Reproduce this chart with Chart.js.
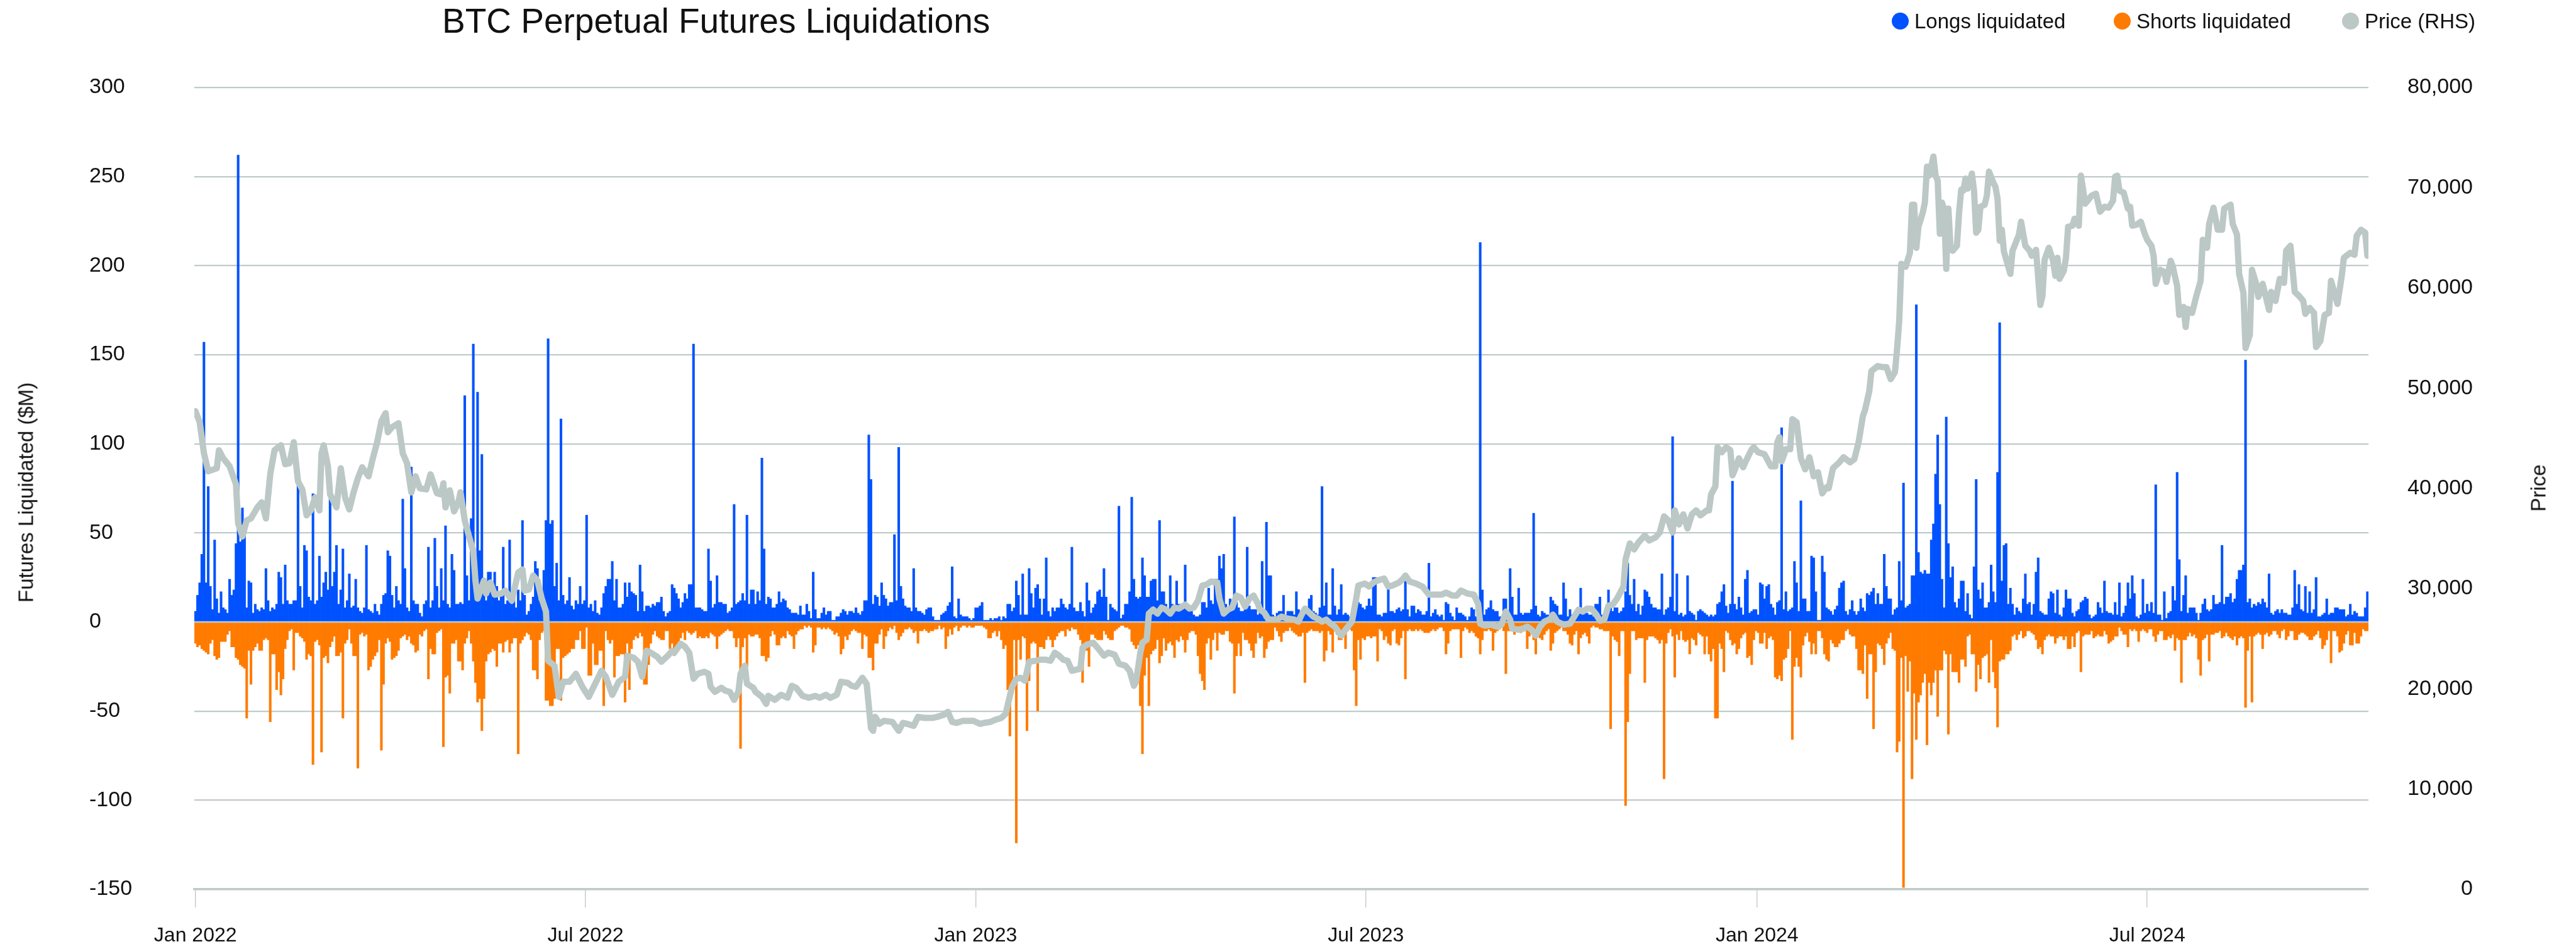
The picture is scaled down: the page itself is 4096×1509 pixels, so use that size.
<!DOCTYPE html>
<html>
<head>
<meta charset="utf-8">
<title>BTC Perpetual Futures Liquidations</title>
<script src="https://cdn.jsdelivr.net/npm/chart.js@4.4.1/dist/chart.umd.min.js"></script>
<style>
  html, body { margin: 0; padding: 0; background: #ffffff; }
  #wrap { position: relative; width: 4096px; height: 1509px; font-family: 'Liberation Sans', Arial, sans-serif; color: #111; }
  #chart { position: absolute; left: 0; top: 0; }
  .title { position: absolute; left: 703px; top: 6px; font-size: 55px; line-height: 55px; white-space: nowrap; }
  .legend-dot { position: absolute; width: 27px; height: 27px; border-radius: 50%; top: 20px; }
  .legend-text { position: absolute; top: 17px; font-size: 33px; line-height: 33px; white-space: nowrap; }
  .axis-title { position: absolute; font-size: 33px; line-height: 33px; white-space: nowrap;
                transform: translate(-50%, -50%) rotate(-90deg); }
</style>
</head>
<body>
<div id="wrap">
  <canvas id="chart"></canvas>
  <div class="title">BTC Perpetual Futures Liquidations</div>
  <div class="legend-dot" style="left:3008px;background:#0052ff"></div>
  <div class="legend-text" style="left:3044px">Longs liquidated</div>
  <div class="legend-dot" style="left:3361px;background:#ff7b00"></div>
  <div class="legend-text" style="left:3397px">Shorts liquidated</div>
  <div class="legend-dot" style="left:3724px;background:#bcc8c5"></div>
  <div class="legend-text" style="left:3760px">Price (RHS)</div>
  <div class="axis-title" style="left:41px;top:783px">Futures Liquidated ($M)</div>
  <div class="axis-title" style="left:4036px;top:776px">Price</div>
</div>
<script>
// daily values from 1 Jan 2022, one entry per day ($M)
const longsLiquidated = [
  6,15,22,38,157,22,76,20,7,46,          // 0
  13,5,17,8,7,5,24,15,18,44,
  262,45,64,56,8,23,22,5,10,7,
  6,8,7,30,12,6,8,7,10,28,
  25,10,32,12,10,10,12,12,77,20,
  8,43,40,14,12,72,10,12,37,14,
  22,28,18,71,20,28,43,10,18,41,
  8,12,27,8,9,24,8,6,5,8,
  43,7,6,5,10,6,4,10,15,16,
  40,37,15,8,20,12,10,69,30,8,
  6,87,12,10,10,5,3,10,12,42,            // 100
  8,12,47,20,8,30,12,54,10,8,
  38,29,10,10,11,10,127,26,12,58,
  156,30,129,40,94,20,12,28,28,18,
  28,20,12,15,42,10,12,46,10,16,
  8,18,12,57,15,4,6,10,14,34,
  30,12,10,29,57,159,55,57,20,33,
  12,114,15,10,12,25,9,7,12,10,
  20,10,12,60,8,10,6,12,5,4,
  8,16,20,24,24,34,12,24,8,8,
  10,22,14,22,17,16,15,6,32,17,          // 200
  6,9,9,8,10,9,11,11,14,6,
  3,5,6,21,19,16,13,8,11,16,
  13,21,21,156,8,8,8,7,6,6,
  41,23,8,10,26,11,11,10,10,5,
  6,8,66,10,11,12,16,12,60,10,
  18,18,10,17,12,92,41,10,14,13,
  8,8,10,17,11,13,12,8,7,5,
  5,5,4,9,4,4,10,6,2,28,
  7,2,2,5,8,4,6,6,1,1,
  3,3,5,7,6,4,6,6,5,8,                   // 300
  5,4,6,12,12,105,80,10,15,14,
  9,22,15,13,9,11,11,49,12,98,
  20,13,9,8,8,6,30,8,6,6,
  5,4,7,8,8,3,1,1,1,4,
  5,6,9,11,31,3,2,13,4,3,
  3,3,2,1,2,8,8,9,11,1,
  1,1,2,1,2,2,3,1,3,2,
  10,10,6,8,23,15,4,27,4,4,
  30,16,8,19,21,13,4,13,36,6,
  3,8,6,8,8,13,10,8,7,10,                // 400
  42,8,6,6,11,6,3,22,12,5,
  8,10,17,18,14,30,14,1,10,8,
  7,6,65,2,4,10,10,17,70,24,
  14,13,14,36,26,14,14,23,24,24,
  12,57,17,17,10,6,26,10,7,23,
  10,10,9,32,10,8,6,4,3,3,
  4,11,11,8,19,12,10,24,24,37,
  30,38,10,6,13,11,59,11,8,6,
  6,10,42,9,7,7,7,4,10,34,
  2,56,26,26,4,3,5,6,6,15,               // 500
  4,6,6,6,4,17,7,6,4,8,
  7,13,15,6,5,4,8,76,9,22,
  4,4,30,9,4,7,21,4,5,4,
  3,5,7,13,11,10,8,7,9,13,
  9,25,25,4,4,3,5,5,22,6,
  6,5,7,8,6,7,24,7,3,9,
  9,5,7,6,4,4,6,33,3,5,
  7,4,3,4,1,11,10,5,3,1,
  8,5,5,4,3,1,3,8,7,3,
  5,213,18,4,7,8,12,7,6,6,               // 600
  3,3,13,13,4,30,14,4,4,19,
  5,4,5,5,5,7,61,9,4,3,
  6,5,4,4,14,12,10,9,4,4,
  22,13,3,7,4,4,5,7,19,5,
  5,5,4,4,3,10,10,14,4,3,
  3,18,10,6,8,8,5,6,8,17,
  33,15,10,24,6,10,4,9,18,17,
  14,10,8,8,7,7,27,4,7,8,
  14,104,6,27,4,5,3,4,26,6,
  5,4,1,6,7,6,5,4,3,4,                   // 700
  3,4,10,11,17,21,9,5,10,79,
  10,7,14,8,4,24,29,5,6,7,
  7,4,22,21,13,20,21,10,8,4,
  11,12,109,7,17,6,7,8,34,22,
  6,68,13,13,6,6,37,36,17,1,
  1,37,28,8,7,6,4,7,9,19,
  22,23,6,4,7,12,6,4,6,13,
  8,6,16,15,17,19,10,16,10,10,
  38,20,13,13,4,7,8,34,12,78,
  8,9,10,26,26,178,39,28,27,29,          // 800
  27,27,46,55,83,105,66,24,8,115,
  44,25,31,11,8,13,23,23,6,16,
  4,2,31,80,18,13,22,8,8,11,
  32,17,11,84,168,23,43,44,10,19,
  10,4,8,6,5,13,27,10,11,4,
  10,28,36,6,5,4,4,13,17,16,
  5,18,4,3,8,18,13,13,5,3,
  6,7,11,12,14,13,4,2,3,4,
  11,8,5,23,6,5,5,4,11,4,
  22,3,5,9,22,13,26,16,3,2,              // 900
  4,24,5,10,6,11,5,77,4,4,
  1,17,2,5,6,20,12,84,35,6,
  15,26,5,8,8,8,5,1,5,10,
  13,7,6,7,15,10,10,11,43,10,
  14,14,16,11,13,24,29,29,32,147,
  11,13,8,10,9,11,10,13,11,8,
  27,5,4,6,7,5,7,5,5,4,
  4,8,29,10,21,7,6,20,5,17,
  5,7,25,3,3,4,5,13,4,5,
  5,8,8,7,7,7,3,4,10,4,                  // 1000
  6,5,3,3,3,8,17
];

const shortsLiquidated = [
  -12,-14,-13,-15,-16,-17,-18,-12,-10,-19,      // 0
  -21,-20,-11,-11,-11,-7,-5,-14,-14,-20,
  -21,-24,-25,-26,-54,-16,-35,-16,-14,-12,
  -16,-16,-10,-9,-10,-56,-18,-18,-38,-28,
  -41,-32,-15,-10,-5,-4,-27,-6,-6,-8,
  -9,-11,-21,-18,-19,-80,-11,-10,-13,-73,
  -20,-19,-23,-14,-11,-8,-19,-19,-17,-54,
  -12,-10,-4,-12,-19,-19,-82,-7,-6,-8,
  -7,-27,-25,-21,-19,-17,-10,-72,-35,-12,
  -9,-11,-21,-20,-19,-16,-9,-8,-7,-10,
  -8,-12,-13,-17,-16,-7,-8,-5,-4,-32,           // 100
  -15,-18,-18,-6,-5,-4,-70,-31,-30,-40,
  -12,-12,-10,-22,-22,-27,-12,-9,-5,-12,
  -22,-34,-45,-43,-61,-43,-22,-18,-17,-15,
  -16,-25,-12,-12,-17,-11,-10,-17,-12,-9,
  -9,-74,-12,-10,-8,-6,-7,-10,-27,-27,
  -32,-10,-6,-5,-44,-44,-47,-47,-43,-15,
  -15,-44,-20,-19,-18,-17,-15,-15,-10,-10,
  -5,-15,-15,-3,-30,-30,-12,-24,-24,-16,
  -16,-47,-5,-10,-12,-10,-31,-19,-19,-18,
  -18,-45,-12,-38,-15,-10,-8,-9,-6,-8,          // 200
  -35,-35,-24,-12,-7,-5,-8,-9,-10,-10,
  -5,-5,-15,-12,-19,-16,-12,-9,-6,-10,
  -5,-6,-7,-6,-5,-9,-8,-9,-9,-8,
  -9,-6,-7,-8,-15,-8,-7,-6,-5,-4,
  -5,-5,-9,-14,-9,-71,-14,-9,-25,-7,
  -8,-8,-7,-7,-9,-19,-19,-22,-20,-8,
  -5,-7,-13,-13,-9,-8,-9,-5,-7,-8,
  -15,-7,-5,-4,-4,-2,-3,-2,-3,-17,
  -13,-3,-3,-4,-3,-4,-3,-4,-5,-7,
  -6,-8,-18,-15,-8,-10,-7,-5,-4,-5,             // 300
  -6,-6,-15,-7,-8,-20,-20,-27,-12,-12,
  -7,-4,-15,-8,-5,-3,-4,-2,-6,-10,
  -8,-6,-4,-4,-3,-4,-6,-5,-12,-5,
  -5,-4,-5,-6,-5,-5,-4,-4,-2,-4,
  -3,-15,-8,-4,-7,-3,-2,-5,-3,-2,
  -2,-3,-2,-3,-3,-2,-2,-2,-2,-3,
  -4,-9,-9,-6,-5,-8,-5,-10,-15,-13,
  -38,-64,-34,-10,-124,-10,-21,-8,-9,-61,
  -33,-12,-11,-12,-50,-14,-14,-15,-10,-8,
  -10,-14,-10,-8,-6,-5,-5,-8,-4,-5,             // 400
  -3,-4,-4,-7,-10,-34,-14,-16,-25,-7,
  -7,-9,-10,-10,-10,-5,-7,-9,-10,-10,
  -5,-4,-3,-2,-2,-3,-3,-4,-11,-13,
  -15,-13,-47,-74,-30,-20,-47,-18,-16,-15,
  -10,-23,-19,-9,-16,-12,-11,-13,-20,-10,
  -11,-8,-10,-17,-10,-6,-5,-5,-7,-19,
  -29,-33,-38,-12,-9,-21,-10,-6,-16,-6,
  -7,-7,-5,-5,-11,-12,-40,-19,-12,-19,
  -6,-10,-10,-12,-16,-20,-12,-6,-9,-8,
  -20,-15,-11,-10,-10,-3,-5,-8,-11,-6,          // 500
  -5,-5,-3,-5,-6,-7,-8,-8,-6,-34,
  -6,-5,-4,-5,-5,-5,-6,-5,-22,-16,
  -5,-7,-17,-5,-7,-10,-10,-5,-15,-5,
  -4,-5,-27,-47,-10,-21,-9,-10,-8,-8,
  -9,-8,-8,-22,-4,-5,-10,-8,-12,-13,
  -5,-4,-12,-13,-9,-5,-32,-5,-4,-5,
  -5,-4,-5,-4,-5,-6,-6,-6,-5,-4,
  -5,-4,-3,-3,-5,-18,-12,-5,-4,-4,
  -4,-4,-20,-5,-3,-4,-6,-5,-6,-8,
  -9,-18,-10,-5,-5,-4,-5,-16,-6,-5,             // 600
  -4,-3,-5,-29,-5,-5,-4,-7,-4,-5,
  -6,-5,-5,-15,-8,-6,-10,-18,-7,-9,
  -10,-7,-5,-4,-16,-12,-6,-5,-4,-3,
  -5,-5,-7,-12,-13,-7,-5,-18,-9,-7,
  -6,-8,-12,-3,-2,-3,-3,-4,-4,-5,
  -5,-5,-60,-8,-10,-11,-19,-5,-5,-103,
  -56,-29,-5,-5,-10,-9,-9,-9,-34,-10,
  -8,-8,-8,-9,-10,-12,-10,-88,-12,-6,
  -4,-8,-31,-7,-10,-5,-10,-11,-10,-18,
  -9,-10,-13,-6,-7,-8,-18,-8,-18,-22,           // 700
  -15,-54,-54,-12,-15,-28,-5,-6,-10,-13,
  -12,-18,-15,-9,-7,-6,-20,-19,-24,-10,
  -5,-6,-12,-12,-6,-15,-9,-8,-10,-31,
  -32,-30,-33,-21,-20,-15,-5,-66,-25,-20,
  -25,-31,-13,-8,-6,-11,-18,-12,-18,-5,
  -5,-9,-18,-21,-22,-10,-12,-14,-14,-12,
  -10,-10,-5,-4,-7,-8,-8,-15,-27,-27,
  -29,-13,-43,-18,-18,-60,-28,-12,-13,-15,
  -24,-12,-9,-6,-15,-16,-73,-67,-20,-149,
  -19,-39,-22,-88,-40,-66,-45,-41,-34,-29,      // 800
  -69,-34,-41,-34,-27,-53,-27,-27,-16,-18,
  -63,-18,-28,-28,-28,-34,-21,-21,-25,-8,
  -7,-18,-18,-39,-24,-32,-20,-19,-18,-34,
  -10,-28,-37,-59,-22,-21,-21,-18,-18,-16,
  -8,-7,-10,-7,-5,-9,-8,-5,-5,-6,
  -7,-10,-15,-14,-18,-10,-8,-7,-8,-8,
  -12,-9,-8,-8,-10,-8,-15,-15,-8,-14,
  -6,-5,-28,-8,-7,-7,-7,-5,-9,-8,
  -7,-8,-8,-5,-7,-12,-11,-10,-8,-8,
  -3,-5,-7,-7,-14,-4,-5,-4,-5,-11,              // 900
  -5,-4,-5,-6,-4,-4,-8,-11,-7,-5,
  -5,-10,-10,-8,-9,-7,-16,-9,-10,-34,
  -10,-10,-8,-6,-8,-7,-9,-21,-30,-10,
  -9,-7,-22,-7,-7,-6,-6,-5,-9,-8,
  -6,-8,-9,-10,-8,-13,-9,-8,-9,-48,
  -16,-8,-45,-8,-7,-6,-7,-15,-7,-6,
  -8,-7,-5,-5,-7,-9,-5,-4,-10,-8,
  -5,-5,-10,-10,-7,-6,-6,-7,-8,-10,
  -10,-8,-7,-5,-9,-15,-13,-10,-5,-23,
  -5,-5,-8,-17,-16,-12,-7,-5,-13,-13,           // 1000
  -6,-12,-12,-8,-4,-5,-5
];

// BTC price (USD): [day since 1 Jan 2022, price]
const btcPrice = [
  [0,47700],[2,46600],[4,43500],[6,41700],[10,42000],[11,43800],[13,43000],[16,42200],[19,40400],[20,36500],
  [22,35200],[24,36800],[26,37000],[29,38100],[31,38600],[33,37000],[35,41400],[37,43800],[40,44300],[42,42400],
  [44,42500],[46,44600],[48,40700],[50,39900],[52,37300],[54,37800],[56,39100],[58,37800],[59,43500],[60,44300],
  [62,42200],[63,39400],[66,38100],[68,42000],[70,39100],[72,37900],[74,39600],[76,41000],[78,42100],[81,41200],
  [83,43000],[85,44600],[87,46700],[89,47500],[90,45600],[92,46100],[95,46500],[97,43500],[99,42500],[101,39600],
  [103,41200],[105,40000],[108,39900],[110,41400],[113,39500],[115,39400],[116,40500],[117,38100],[119,39800],[121,37700],
  [123,38600],[124,39600],[126,36800],[128,35200],[130,33700],[131,30800],[132,29000],[135,30800],[136,29500],[138,30600],
  [140,29400],[143,29500],[145,29800],[148,28800],[151,31600],[153,31900],[154,29800],[156,29900],[158,31300],[160,30800],
  [162,29000],[164,27700],[165,22800],[168,22300],[170,19200],[172,20700],[175,20700],[178,21500],[181,20200],[184,19200],
  [187,20500],[190,21800],[192,21200],[195,19400],[198,20700],[201,21200],[202,23300],[205,23100],[207,22700],[209,21200],
  [211,23800],[213,23600],[216,23200],[218,22700],[221,23300],[223,23800],[224,23600],[227,24500],[229,24200],[231,23600],
  [233,21000],[235,21500],[238,21700],[240,21500],[241,20200],[243,19700],[246,20100],[248,19800],[250,19700],[252,18900],
  [254,19700],[255,21500],[257,22300],[258,20500],[261,20100],[262,19700],[265,19200],[267,18500],[268,19300],[271,18900],
  [274,19400],[277,19100],[279,20300],[281,20100],[284,19300],[287,19100],[290,19300],[292,19100],[295,19400],[297,19100],
  [300,19400],[302,20700],[305,20600],[307,20300],[309,20200],[312,21100],[314,20500],[316,16100],[317,15800],[318,17200],
  [320,16500],[322,16800],[326,16700],[329,15800],[331,16600],[333,16500],[336,16300],[338,17200],[341,17100],[345,17100],
  [347,17200],[350,17400],[352,17700],[354,16700],[356,16600],[359,16800],[361,16800],[364,16800],[367,16500],[369,16600],
  [372,16700],[374,16900],[377,17100],[379,17500],[380,18400],[382,20200],[384,21000],[386,21100],[388,20800],[390,22700],
  [393,22800],[395,22900],[398,22900],[400,22800],[402,23600],[404,23300],[406,22900],[408,22800],[410,21800],[412,21900],
  [414,22000],[415,24100],[417,24400],[420,24600],[422,24100],[425,23300],[427,23600],[430,23400],[432,22500],[435,22300],
  [437,21800],[439,20300],[440,20700],[442,23600],[443,24600],[445,24900],[446,27500],[448,27900],[450,27500],[452,28100],
  [454,27900],[456,27500],[458,28100],[460,28000],[463,28400],[465,28000],[467,28100],[469,28800],[471,30300],[473,30400],
  [475,30700],[478,30600],[479,29000],[481,27500],[483,27900],[485,28100],[487,29300],[489,29100],[491,28200],[493,29000],
  [495,29300],[497,28500],[498,27900],[500,27600],[502,26900],[506,26900],[508,27200],[511,27000],[514,26900],[516,26700],
  [517,27200],[519,28000],[521,27600],[523,27200],[525,27000],[527,26700],[529,26900],[531,26500],[533,26200],[536,25300],
  [538,25900],[541,26700],[543,29000],[544,30300],[547,30500],[549,30200],[551,30600],[553,30800],[556,31000],[558,30200],
  [560,30300],[563,30600],[565,31000],[566,31300],[568,30700],[571,30500],[574,30200],[577,29400],[580,29400],[583,29400],
  [585,29600],[588,29300],[590,29300],[592,29800],[595,29500],[598,29400],[600,28500],[601,26500],[603,26300],[606,26400],
  [609,26200],[611,26400],[613,27700],[615,26900],[616,26000],[619,25900],[621,26000],[623,26200],[625,25900],[627,25300],
  [629,26200],[631,26700],[634,27000],[635,27400],[637,26700],[640,26400],[643,26500],[645,27200],[647,27900],[649,27700],
  [651,28000],[653,28000],[655,27500],[657,26800],[659,26900],[661,28300],[663,28400],[665,29000],[667,29800],[668,30200],
  [669,32900],[671,34500],[673,33900],[675,34600],[678,35300],[680,34800],[683,35100],[685,35600],[687,37200],[689,36800],
  [691,35600],[692,37800],[694,36400],[696,37400],[698,36000],[700,37400],[702,37800],[704,37300],[707,37800],[708,37800],
  [709,39400],[711,40200],[712,44100],[714,43600],[716,44100],[718,43800],[719,41300],[720,41800],[722,43000],[724,42100],
  [725,42600],[728,43900],[729,44100],[731,43600],[734,43400],[737,42200],[739,42200],[740,44600],[741,45100],[742,42700],
  [744,43900],[746,43900],[747,46900],[749,46600],[751,43000],[753,41900],[755,43100],[757,41200],[759,41600],[761,39500],
  [763,40100],[764,40000],[766,42000],[767,42200],[769,42600],[771,43100],[774,42600],[776,42900],[778,44600],[780,47200],
  [781,47800],[783,49700],[784,51700],[787,52200],[789,52100],[791,52100],[793,50900],[795,51600],[796,53900],[797,56700],
  [798,62400],[800,62100],[802,63500],[803,68300],[804,68300],[805,64000],[806,66100],[808,67500],[809,68500],[810,72100],
  [811,71200],[813,73100],[814,71200],[815,70700],[816,65400],[817,68500],[818,67900],[819,61900],[820,67900],[821,64000],
  [822,63700],[824,64200],[825,67500],[826,69800],[827,69700],[828,70900],[829,69900],[831,71400],[832,69700],[833,65500],
  [834,65800],[835,68100],[837,68300],[838,69200],[839,71600],[841,70500],[842,70100],[843,68900],[844,64700],[845,65800],
  [846,63600],[849,61400],[850,63700],[853,65300],[854,66600],[856,64200],[858,63700],[859,63200],[861,63800],[863,58300],
  [864,59200],[865,62800],[867,64000],[869,62700],[870,61200],[871,63000],[872,60900],[874,61700],[875,63000],[876,66100],
  [878,66200],[879,66900],[881,66200],[882,71200],[884,68400],[887,69200],[889,69400],[891,67600],[893,68100],[895,68000],
  [897,68700],[898,71100],[899,71200],[900,69700],[902,69500],[904,67900],[905,68100],[906,66200],[908,66300],[910,66600],
  [912,65300],[913,64800],[915,64200],[916,63200],[917,60400],[919,61800],[921,61600],[922,60600],[924,62700],[925,62100],
  [927,60200],[928,57300],[930,58100],[931,56100],[932,57900],[934,57500],[936,59200],[938,60700],[939,64800],[941,64000],
  [942,66400],[944,68000],[946,65800],[948,65800],[949,67900],[952,68300],[953,66400],[955,65300],[956,61400],[958,59500],
  [959,54000],[961,55300],[962,61800],[964,60400],[965,59100],[967,60400],[970,57800],[971,59600],[973,58700],[975,60900],
  [977,60500],[978,63700],[980,64200],[982,59600],[984,59200],[986,58700],[987,57400],[989,58000],[991,57500],[992,54100],
  [994,54700],[996,57300],[998,57500],[999,60700],[1002,58400],[1004,61200],[1005,63000],[1008,63500],[1010,63300],[1011,65200],
  [1013,65800],[1015,65500],[1016,63200]
];

const tickDays = [0, 182.5, 365, 547.5, 730.5, 913];
const tickLabels = ['Jan 2022', 'Jul 2022', 'Jan 2023', 'Jul 2023', 'Jan 2024', 'Jul 2024'];
const seriesNames = ['Longs liquidated', 'Shorts liquidated', 'Price (RHS)'];

const BLUE = '#0052ff';
const ORANGE = '#ff7b00';
const GREY = '#bcc8c5';
const GRID = '#c0cbc9';

Chart.defaults.font.family = "'Liberation Sans', Arial, sans-serif";
Chart.defaults.color = '#111';

const dayCount = longsLiquidated.length;

// zero line of the bar axis, drawn over the bars but under the price line
const zeroLine = {
  id: 'zeroLine',
  beforeDatasetDraw(chart, args) {
    if (args.index !== 2) return;
    const y = chart.scales.y.getPixelForValue(0);
    const { left, right } = chart.chartArea;
    const ctx = chart.ctx;
    ctx.save();
    ctx.strokeStyle = GRID;
    ctx.lineWidth = 2.4;
    ctx.beginPath();
    ctx.moveTo(left, y);
    ctx.lineTo(right, y);
    ctx.stroke();
    ctx.restore();
  }
};

new Chart(document.getElementById('chart'), {
  type: 'bar',
  data: {
    datasets: [
      {
        label: seriesNames[0],
        data: longsLiquidated.map((v, i) => ({ x: i, y: v })),
        backgroundColor: BLUE,
        grouped: false,
        barPercentage: 1,
        categoryPercentage: 1,
        yAxisID: 'y',
        order: 2
      },
      {
        label: seriesNames[1],
        data: shortsLiquidated.map((v, i) => ({ x: i, y: v })),
        backgroundColor: ORANGE,
        grouped: false,
        barPercentage: 1,
        categoryPercentage: 1,
        yAxisID: 'y',
        order: 1
      },
      {
        type: 'line',
        label: seriesNames[2],
        data: btcPrice.map(p => ({ x: p[0], y: p[1] })),
        borderColor: GREY,
        borderWidth: 10,
        borderJoinStyle: 'round',
        borderCapStyle: 'round',
        pointRadius: 0,
        tension: 0,
        yAxisID: 'y1',
        order: 0
      }
    ]
  },
  options: {
    responsive: true,
    maintainAspectRatio: false,
    devicePixelRatio: 1,
    animation: false,
    events: [],
    layout: { padding: { left: 142, right: 164, top: 139, bottom: 0 } },
    plugins: {
      legend: { display: false },
      title: { display: false },
      tooltip: { enabled: false }
    },
    scales: {
      x: {
        type: 'linear',
        offset: false,
        min: -0.5,
        max: dayCount - 0.5,
        afterBuildTicks: scale => { scale.ticks = tickDays.map(v => ({ value: v })); },
        afterFit: scale => { scale.height = 95; },
        ticks: {
          autoSkip: false,
          maxRotation: 0,
          minRotation: 0,
          padding: 26,
          font: { size: 32 },
          callback: (value, index) => tickLabels[index]
        },
        grid: { offset: false, drawOnChartArea: false, drawTicks: true, tickLength: 29, color: GRID, lineWidth: 1.4 },
        border: { display: true, color: GRID, width: 3.5 }
      },
      y: {
        position: 'left',
        min: -150,
        max: 300,
        afterFit: scale => { scale.width = 167; },
        ticks: { stepSize: 50, crossAlign: 'far', padding: 0, font: { size: 34 } },
        grid: { color: GRID, lineWidth: 2.2, drawTicks: false },
        border: { display: false }
      },
      y1: {
        position: 'right',
        min: 0,
        max: 80000,
        afterFit: scale => { scale.width = 166; },
        ticks: {
          stepSize: 10000,
          crossAlign: 'far',
          padding: 0,
          font: { size: 34 },
          callback: v => v.toLocaleString('en-US')
        },
        grid: { display: false, drawTicks: false },
        border: { display: false }
      }
    }
  },
  plugins: [zeroLine]
});
</script>
</body>
</html>
